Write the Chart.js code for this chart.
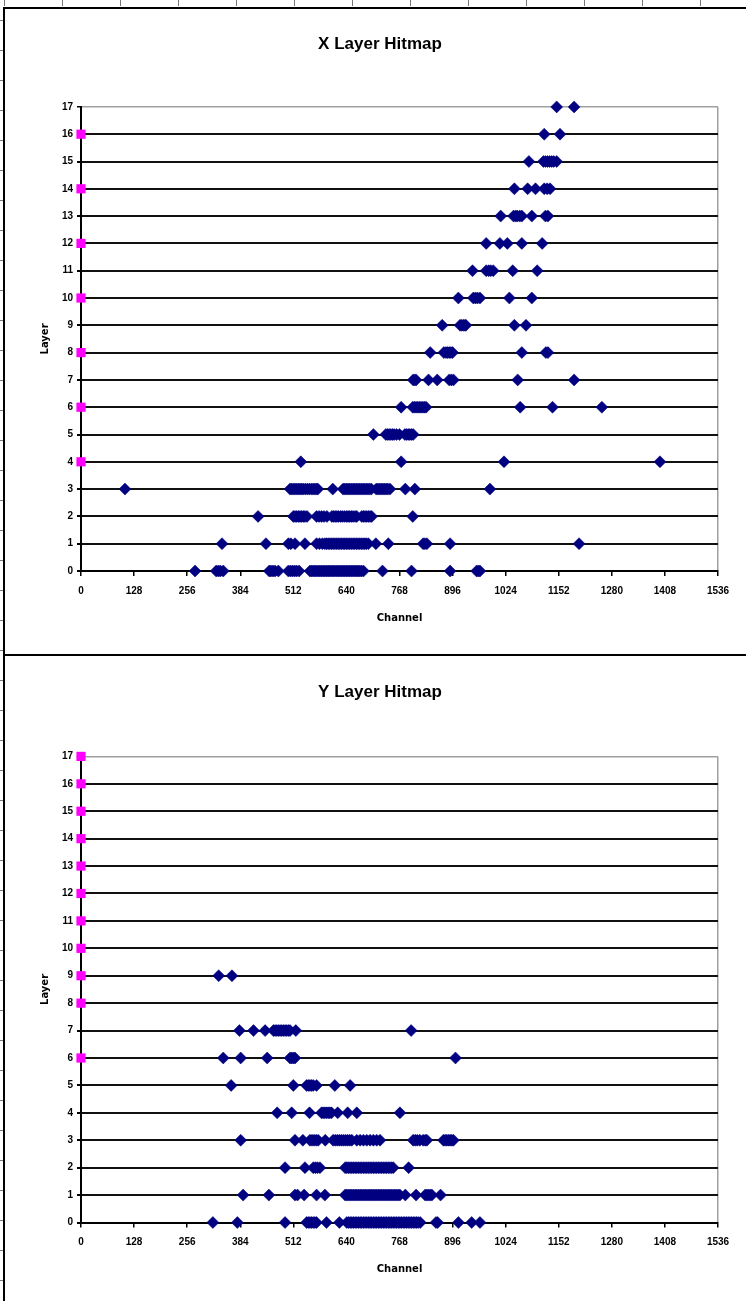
<!DOCTYPE html>
<html>
<head>
<meta charset="utf-8">
<title>Layer Hitmaps</title>
<script src="https://cdn.jsdelivr.net/npm/chart.js@4.4.1/dist/chart.umd.min.js"></script>
<style>
  html, body { margin: 0; padding: 0; background: #fff; overflow: hidden; }
  body { position: relative; width: 746px; height: 1301px; }
  canvas { position: absolute; left: 0; }
  #xChart { top: 0; }
  #yChart { top: 655px; }
  .line { position: absolute; background: #000; }
  .ruler-top { position: absolute; left: 4px; top: 0; width: 742px; height: 6px;
    background: repeating-linear-gradient(to right, #777 0 1px, transparent 1px 58px); }
  .ruler-left { position: absolute; left: 0; top: 20px; width: 3px; height: 1281px;
    background: repeating-linear-gradient(to bottom, #777 0 1px, transparent 1px 30px); }
</style>
</head>
<body>
<canvas id="xChart" width="746" height="655"></canvas>
<canvas id="yChart" width="746" height="646"></canvas>
<div class="ruler-top"></div>
<div class="ruler-left"></div>
<div class="line" style="left:3px; top:7px; width:743px; height:2px;"></div>
<div class="line" style="left:3px; top:7px; width:2px; height:1294px;"></div>
<div class="line" style="left:3px; top:654px; width:743px; height:2px;"></div>
<script>
// channel ticks and layers
const channelTicks = [0, 128, 256, 384, 512, 640, 768, 896, 1024, 1152, 1280, 1408, 1536];
const layerCount = 17;

// hit channels per layer (index = layer 0..17), X plane
const xLayerHits = [
    [275, 326, 331, 336, 343, 454, 458, 463, 468, 476, 500, 505, 510, 515, 520, 526, 552, 556, 560, 564, 568, 572, 576, 580, 584, 588, 592, 596, 600, 604, 608, 612, 616, 620, 624, 628, 632, 636, 640, 644, 648, 652, 656, 660, 664, 668, 672, 676, 681, 727, 797, 890, 954, 958, 962],
    [340, 446, 500, 506, 516, 540, 568, 575, 582, 588, 592, 596, 600, 604, 608, 612, 616, 620, 624, 628, 632, 636, 640, 644, 648, 652, 656, 660, 664, 668, 672, 676, 680, 684, 688, 693, 711, 741, 825, 829, 834, 890, 1201],
    [427, 512, 516, 520, 524, 528, 532, 536, 540, 545, 568, 574, 580, 586, 593, 605, 609, 613, 617, 621, 626, 630, 635, 640, 644, 648, 652, 656, 661, 665, 677, 681, 685, 689, 693, 697, 701, 800],
    [106, 504, 508, 512, 516, 520, 524, 528, 532, 536, 541, 546, 551, 556, 560, 564, 568, 571, 607, 632, 636, 640, 644, 648, 652, 656, 660, 664, 668, 672, 676, 680, 684, 688, 692, 696, 700, 712, 716, 720, 724, 728, 732, 736, 740, 745, 782, 805, 986],
    [530, 772, 1020, 1396],
    [705, 735, 739, 743, 747, 751, 755, 761, 768, 781, 785, 789, 793, 797, 801],
    [772, 800, 804, 808, 812, 816, 820, 824, 828, 832, 1059, 1137, 1256],
    [801, 805, 808, 838, 859, 888, 893, 898, 1053, 1189],
    [842, 875, 880, 884, 888, 892, 896, 1063, 1121, 1126],
    [871, 914, 918, 922, 926, 928, 1045, 1073],
    [910, 946, 951, 956, 962, 1033, 1087],
    [944, 977, 983, 988, 994, 1041, 1100],
    [977, 1010, 1028, 1063, 1112],
    [1012, 1043, 1048, 1052, 1058, 1063, 1087, 1120, 1126],
    [1045, 1077, 1096, 1117, 1124, 1131],
    [1080, 1115, 1120, 1125, 1130, 1135, 1140, 1147],
    [1117, 1155],
    [1147, 1189]
];
const xDeadLayers = [4, 6, 8, 10, 12, 14, 16];

// Y plane
const yLayerHits = [
    [318, 377, 492, 544, 548, 552, 556, 560, 564, 568, 592, 623, 641, 645, 649, 653, 657, 661, 665, 669, 673, 677, 681, 685, 689, 693, 697, 701, 705, 709, 713, 717, 721, 725, 729, 733, 737, 741, 745, 749, 753, 757, 761, 765, 769, 773, 777, 781, 785, 789, 793, 797, 801, 805, 809, 813, 818, 856, 860, 910, 942, 962],
    [391, 453, 516, 522, 538, 568, 588, 637, 641, 645, 649, 653, 657, 661, 665, 669, 673, 677, 681, 685, 689, 693, 697, 701, 705, 709, 713, 717, 721, 725, 729, 733, 737, 741, 745, 749, 753, 757, 761, 765, 769, 782, 808, 830, 834, 838, 842, 846, 867],
    [492, 540, 560, 565, 570, 576, 637, 641, 645, 649, 653, 657, 661, 665, 669, 673, 677, 681, 685, 689, 693, 697, 701, 705, 709, 713, 717, 721, 725, 729, 733, 737, 741, 745, 749, 753, 790],
    [385, 516, 535, 552, 557, 562, 567, 572, 589, 608, 613, 618, 623, 628, 633, 638, 643, 648, 653, 665, 673, 681, 689, 697, 705, 713, 721, 801, 806, 811, 817, 825, 830, 834, 874, 878, 882, 886, 890, 894, 898],
    [473, 508, 551, 580, 584, 588, 592, 596, 600, 604, 619, 643, 665, 769],
    [362, 512, 544, 548, 552, 556, 560, 568, 612, 649],
    [343, 385, 449, 504, 508, 512, 516, 903],
    [382, 416, 444, 464, 468, 472, 476, 480, 484, 488, 492, 496, 500, 504, 518, 796],
    [],
    [332, 364],
    [], [], [], [], [], [], [], []
];
const yDeadLayers = [6, 8, 9, 10, 11, 12, 13, 14, 15, 16, 17];

Chart.defaults.font.family = '"Liberation Sans", Arial, sans-serif';
Chart.defaults.color = '#000';

function toPoints(hits) {
    const pts = [];
    hits.forEach((row, layer) => row.forEach(ch => pts.push({ x: ch, y: layer })));
    return pts;
}

function makeHitmap(id, title, hits, dead, geo) {
    const ctx = document.getElementById(id).getContext('2d');
    return new Chart(ctx, {
        type: 'scatter',
        data: {
            datasets: [{
                label: 'hits',
                data: toPoints(hits),
                pointStyle: 'rectRot',
                pointRadius: 6,
                pointBackgroundColor: '#000080',
                pointBorderColor: '#000080',
                pointBorderWidth: 0.5,
                clip: false
            }, {
                label: 'dead',
                data: dead.map(l => ({ x: 0, y: l })),
                pointStyle: 'rect',
                pointRadius: 6.5,
                pointBackgroundColor: '#ff00ff',
                pointBorderColor: '#ff00ff',
                pointBorderWidth: 0,
                clip: false
            }]
        },
        options: {
            responsive: false,
            animation: false,
            events: [],
            // left padding of 42 keeps the title centred on the frame, like the original
            layout: { padding: { left: 42, right: 28, top: 0, bottom: 0 } },
            plugins: {
                legend: { display: false },
                tooltip: { enabled: false },
                title: {
                    display: true,
                    text: title,
                    color: '#000',
                    font: { size: 17, weight: 'bold' },
                    padding: { top: geo.titleTop, bottom: geo.titleBottom }
                }
            },
            scales: {
                x: {
                    type: 'linear',
                    min: 0,
                    max: 1536,
                    afterFit: s => { s.height = geo.xHeight; },
                    afterBuildTicks: s => { s.ticks = channelTicks.map(v => ({ value: v })); },
                    ticks: {
                        font: { size: 10, weight: 'bold' },
                        padding: 9,
                        maxRotation: 0,
                        autoSkip: false,
                        callback: v => String(v)
                    },
                    grid: {
                        color: c => (c.tick && c.tick.value === 1536) ? '#a0a0a0' : 'rgba(0,0,0,0)',
                        lineWidth: 1.5,
                        tickColor: '#000',
                        tickLength: 5
                    },
                    border: { color: '#000', width: 2 },
                    title: {
                        display: true,
                        text: 'Channel',
                        font: { family: '"DejaVu Sans"', size: 10, weight: 'bold' },
                        padding: { top: 0, bottom: geo.xTitlePad }
                    }
                },
                y: {
                    type: 'linear',
                    min: 0,
                    max: layerCount,
                    afterFit: s => { s.width = 39; },
                    ticks: { stepSize: 1, font: { size: 10, weight: 'bold' }, padding: 4, autoSkip: false },
                    grid: {
                        color: c => (c.tick && c.tick.value === layerCount) ? '#a0a0a0' : '#111',
                        lineWidth: c => (c.tick && c.tick.value === layerCount) ? 1.5 : 2,
                        tickColor: '#000',
                        tickLength: 4
                    },
                    border: { color: '#000', width: 2 },
                    title: {
                        display: true,
                        text: 'Layer',
                        font: { family: '"DejaVu Sans"', size: 10, weight: 'bold' },
                        padding: { top: -3, bottom: 0 }
                    }
                }
            }
        }
    });
}

makeHitmap('xChart', 'X Layer Hitmap', xLayerHits, xDeadLayers,
    { titleTop: 34.5, titleBottom: 52, xHeight: 84, xTitlePad: 31 });
makeHitmap('yChart', 'Y Layer Hitmap', yLayerHits, yDeadLayers,
    { titleTop: 27, titleBottom: 54, xHeight: 78.5, xTitlePad: 26 });
</script>
</body>
</html>
